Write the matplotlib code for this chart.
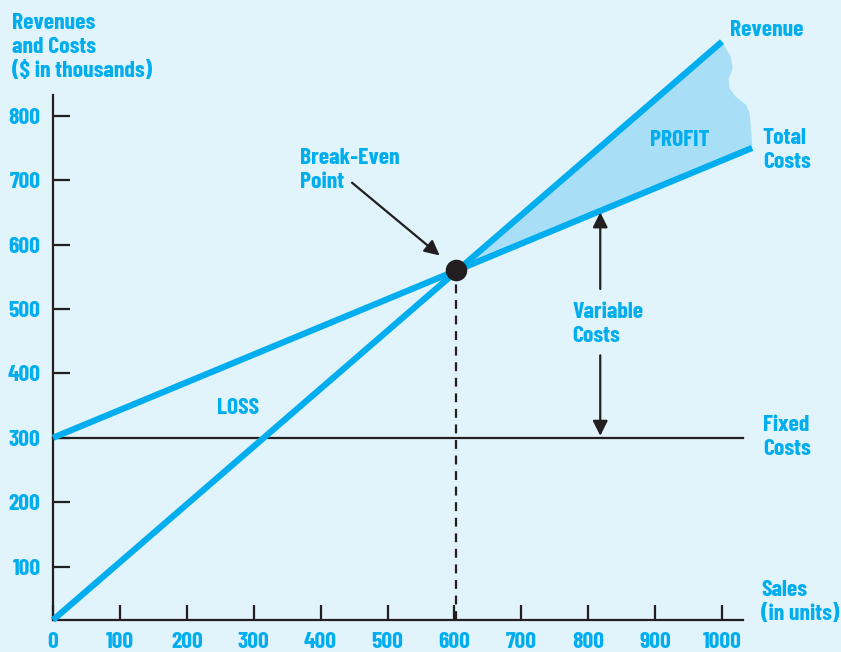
import matplotlib.pyplot as plt
from matplotlib.patches import Polygon

# values ($ thousands vs units)
units = [0, 100, 200, 300, 400, 500, 600, 700, 800, 900, 1000]
y_ticks = [100, 200, 300, 400, 500, 600, 700, 800]
revenue_x = [0, 1000]
revenue_y = [17, 915]
cost_x = [0, 1045]
cost_y = [300, 750]
fixed_cost = 300
breakeven = (603, 561)
# ragged right edge of the profit wedge
torn_x = [1001, 1013, 1016, 1010, 1011, 1020, 1036, 1041, 1043, 1045]
torn_y = [913, 892, 873, 858, 843, 830, 817, 805, 785, 758]

BLUE = '#00aeef'
FILL = '#a9def7'
BG = '#e1f3fb'
INK = '#231f20'

plt.rcParams['font.family'] = ['Barlow Condensed', 'DejaVu Sans']
plt.rcParams['font.weight'] = 700

fig = plt.figure(figsize=(8.41, 6.52), dpi=100, facecolor=BG)
# x=0 at px 53, y=17 at px 620; 0.669 px/unit in x, 0.644 px/unit in y
ax = fig.add_axes([53 / 841, 32 / 652, 1100 * 0.669 / 841, (960 - 17) * 0.644 / 652])
ax.set_facecolor(BG)
ax.set_xlim(0, 1100)
ax.set_ylim(17, 960)

for s in ['top', 'right']:
    ax.spines[s].set_visible(False)
ax.spines['left'].set_bounds(17, 832)
ax.spines['bottom'].set_bounds(0, 1031)
for s in ['left', 'bottom']:
    ax.spines[s].set_linewidth(1.6)
    ax.spines[s].set_color(INK)

ax.set_xticks(units)
ax.set_yticks(y_ticks)
ax.tick_params(axis='y', direction='in', length=12, width=1.6, color=INK,
               pad=9, labelcolor=BLUE, labelsize=17)
ax.tick_params(axis='x', direction='in', length=11, width=1.6, color=INK,
               pad=9, labelcolor=BLUE, labelsize=17)
for lab in ax.get_xticklabels() + ax.get_yticklabels():
    lab.set_fontweight(700)

# profit wedge
rev_at = lambda x: revenue_y[0] + (revenue_y[1] - revenue_y[0]) * x / revenue_x[1]
cost_at = lambda x: cost_y[0] + (cost_y[1] - cost_y[0]) * x / cost_x[1]
poly = [breakeven, (revenue_x[1], rev_at(revenue_x[1]))]
poly += list(zip(torn_x, torn_y))
poly += [(cost_x[1], cost_at(cost_x[1]))]
ax.add_patch(Polygon(poly, closed=True, facecolor=FILL, edgecolor='none',
                     zorder=1, clip_on=False))

ax.plot([0, 1031], [fixed_cost, fixed_cost], color=INK, lw=1.6, zorder=2,
        clip_on=False)
ax.plot(revenue_x, revenue_y, color=BLUE, lw=4.5, solid_capstyle='butt',
        zorder=3, clip_on=False)
ax.plot(cost_x, cost_y, color=BLUE, lw=4.5, solid_capstyle='butt',
        zorder=3, clip_on=False)
ax.plot([breakeven[0], breakeven[0]], [17, breakeven[1]], color=INK, lw=1.6,
        dashes=(4, 3), zorder=2)
ax.plot(*breakeven, 'o', color=INK, markersize=14.5, zorder=5)

arrow = dict(arrowstyle='-|>,head_length=0.9,head_width=0.45', color=INK,
             lw=1.6, shrinkA=0, shrinkB=0)
ax.annotate('', xy=(578, 583), xytext=(447, 696), arrowprops=arrow)
ax.annotate('', xy=(818, 650), xytext=(818, 531), arrowprops=arrow)
ax.annotate('', xy=(818, 303), xytext=(818, 428), arrowprops=arrow)

txt = dict(color=BLUE, fontsize=17, fontweight=700, linespacing=1.25)
ax.text(369, 716, 'Break-Even\nPoint', ha='left', va='center', **txt)
ax.text(776, 477, 'Variable\nCosts', ha='left', va='center', **txt)
ax.text(276, 346, 'LOSS', ha='center', va='center', **txt)
ax.text(937, 762, 'PROFIT', ha='center', va='center', **txt)
ax.text(1012, 933, 'Revenue', ha='left', va='center', **txt)
ax.text(1061, 747, 'Total\nCosts', ha='left', va='center', **txt)
ax.text(1061, 301, 'Fixed\nCosts', ha='left', va='center', **txt)
ax.text(1059, 45, 'Sales\n(in units)', ha='left', va='center', clip_on=False, **txt)
fig.text(12 / 841, 1 - 47 / 652, 'Revenues\nand Costs\n($ in thousands)',
         ha='left', va='center', **txt)

fig.savefig('out.png', dpi=100, facecolor=BG)
